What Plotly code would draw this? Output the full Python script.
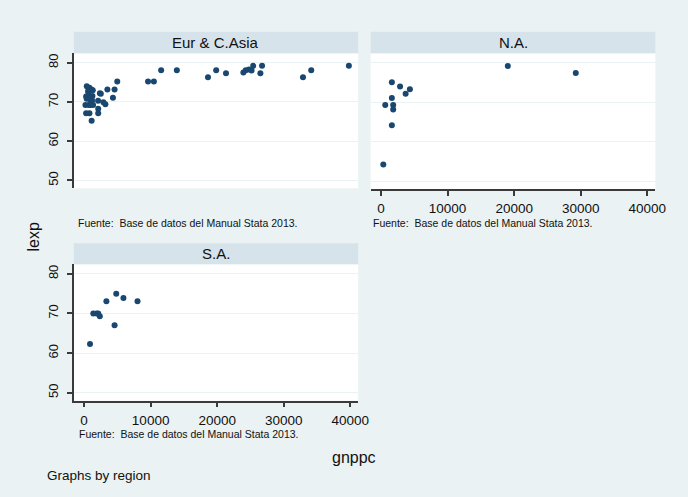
import plotly.graph_objects as go

# ---- data ----
eur_gnppc = [400, 800, 1100, 600, 1300, 300, 900, 1250, 640, 390, 890, 1200,
             200, 700, 1000, 1350, 300, 800, 1130, 2120, 2120, 2370, 2510, 2100,
             3200, 2900, 3500, 4580, 4330, 4980, 9610, 10490, 11580, 13940,
             18620, 19850, 21330, 23940, 24290, 24780, 25170, 25420, 26500,
             26750, 32900, 34140, 39800]
eur_lexp = [74.0, 73.6, 73.2, 72.8, 73.0, 71.4, 71.2, 71.5, 72.4, 70.8, 70.6, 70.4,
            69.2, 69.2, 69.2, 69.2, 67.1, 67.1, 65.2, 68.3, 67.1, 72.2, 72.1, 70.3,
            69.4, 69.9, 73.2, 73.2, 71.1, 75.2, 75.2, 75.2, 78.1, 78.1,
            76.3, 78.1, 77.3, 77.5, 78.1, 78.3, 78.0, 79.2, 77.3,
            79.2, 76.3, 78.1, 79.2]

na_gnppc = [19040, 29250, 1630, 2860, 4340, 3700, 1630, 640, 1830, 1830, 1630, 350]
na_lexp = [79.2, 77.4, 75.1, 74.0, 73.3, 72.2, 71.1, 69.3, 69.3, 68.2, 64.2, 54.3]

sa_gnppc = [890, 1380, 1870, 2120, 2360, 3350, 4830, 4580, 5910, 8030]
sa_lexp = [62.3, 70.0, 70.0, 70.0, 69.3, 73.1, 75.0, 67.0, 73.9, 73.1]

regions = ["Eur & C.Asia", "N.A.", "S.A."]
y_ticks = [50, 60, 70, 80]
x_ticks = [0, 10000, 20000, 30000, 40000]
note = "Fuente:  Base de datos del Manual Stata 2013."

W, H = 688, 497
BG = "#EAF2F3"
STRIP = "#D6E3EA"
NAVY = "#1A476F"
FONT = "Liberation Sans, Arial, sans-serif"

def px(x):
    return x / W

def py(y):
    return 1 - y / H

# panel geometry in pixels (left, right, top of plot, bottom of plot, strip top)
panels = [
    (75, 364, 53.3, 188.3, 31.7),
    (376.7, 666, 53.3, 189.3, 31.7),
    (75, 364, 264.3, 400.7, 243.3),
]

fig = go.Figure()
data = [(eur_gnppc, eur_lexp), (na_gnppc, na_lexp), (sa_gnppc, sa_lexp)]
for i, (xs, ys) in enumerate(data):
    fig.add_trace(go.Scatter(
        x=xs, y=ys, mode="markers",
        marker=dict(symbol="circle", size=6, color=NAVY),
        xaxis="x" if i == 0 else f"x{i+1}",
        yaxis="y" if i == 0 else f"y{i+1}",
        showlegend=False, hoverinfo="x+y"))

layout = dict(
    width=W, height=H,
    margin=dict(l=0, r=0, t=0, b=0),
    paper_bgcolor=BG, plot_bgcolor="white",
    font=dict(family=FONT, color="#111111"),
    showlegend=False,
)

show_x = [False, True, True]
show_y = [True, False, True]
shapes = []
annotations = []
for i, (l, r, t, b, st) in enumerate(panels):
    xa = "xaxis" if i == 0 else f"xaxis{i+1}"
    ya = "yaxis" if i == 0 else f"yaxis{i+1}"
    yanchor = "y" if i == 0 else f"y{i+1}"
    xanchor = "x" if i == 0 else f"x{i+1}"
    layout[xa] = dict(
        domain=[px(l), px(r)], anchor=yanchor,
        range=[-1550, 41200], tickvals=x_ticks,
        ticktext=[str(v) for v in x_ticks],
        showgrid=False, zeroline=False,
        showline=show_x[i], linecolor="#3a3a3a", linewidth=1.5,
        ticks="outside" if show_x[i] else "", ticklen=5, tickwidth=1.5,
        tickcolor="#3a3a3a",
        showticklabels=show_x[i],
        tickfont=dict(size=13.5, family=FONT, color="#111111"),
        ticklabelstandoff=1,
    )
    layout[ya] = dict(
        domain=[py(b), py(t)], anchor=xanchor,
        range=[48.0, 82.4], tickvals=y_ticks,
        ticktext=[str(v) for v in y_ticks],
        showgrid=True, gridcolor=BG, gridwidth=1.2,
        zeroline=False,
        showline=show_y[i], linecolor="#3a3a3a", linewidth=1.5,
        ticks="outside" if show_y[i] else "", ticklen=5, tickwidth=1.5,
        tickcolor="#3a3a3a",
        showticklabels=show_y[i], tickangle=-90,
        tickfont=dict(size=13, family=FONT, color="#111111"),
        ticklabelstandoff=4,
    )
    # strip
    shapes.append(dict(type="rect", xref="paper", yref="paper",
                       x0=px(l), x1=px(r), y0=py(t), y1=py(st),
                       fillcolor=STRIP, line=dict(width=0), layer="below"))
    annotations.append(dict(text=regions[i], xref="paper", yref="paper",
                            x=px((l + r) / 2), y=py((t + st) / 2),
                            xanchor="center", yanchor="middle", showarrow=False,
                            font=dict(size=15, family=FONT, color="#111111")))

# notes
for (nx, ny) in [(77, 222.5), (377.5, 222.5), (78, 434)]:
    annotations.append(dict(text=note, xref="paper", yref="paper",
                            x=px(nx), y=py(ny), xanchor="left", yanchor="middle",
                            showarrow=False,
                            font=dict(size=10.5, family=FONT, color="#111111")))

annotations.append(dict(text="lexp", xref="paper", yref="paper",
                        x=px(34), y=py(237), xanchor="center", yanchor="middle",
                        textangle=-90, showarrow=False,
                        font=dict(size=16, family=FONT, color="#111111")))
annotations.append(dict(text="gnppc", xref="paper", yref="paper",
                        x=px(360), y=py(457), xanchor="center", yanchor="middle",
                        showarrow=False,
                        font=dict(size=16, family=FONT, color="#111111")))
annotations.append(dict(text="Graphs by region", xref="paper", yref="paper",
                        x=px(46), y=py(475), xanchor="left", yanchor="middle",
                        showarrow=False,
                        font=dict(size=13.5, family=FONT, color="#111111")))

layout["shapes"] = shapes
layout["annotations"] = annotations
fig.update_layout(**layout)
fig.write_html(
    "out.html",
    config={"displayModeBar": False},
    post_script="document.body.style.margin='0';"
                "document.body.style.background='%s';"
                "document.body.style.overflow='hidden';" % BG,
)
